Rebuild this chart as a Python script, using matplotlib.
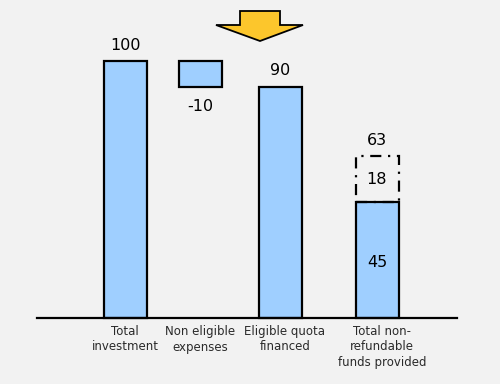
import matplotlib
matplotlib.use("Agg")
import matplotlib.pyplot as plt
from matplotlib.patches import Polygon

# data
categories = ["Total\ninvestment", "Non eligible\nexpenses",
              "Eligible quota\nfinanced", "Total non-\nrefundable\nfunds provided"]
total_investment = 100
non_eligible = -10
eligible_quota = 90
funds_solid = 45
funds_extra = 18
funds_total = 63

# layout (pixel x of each category centre, 2.57 px per unit)
xpos = [125, 200, 280, 377]
label_x = [125, 200, 285, 382]
bw = 43
ppu = 2.57
base_px = 318

blue = "#9fcfff"
bg = "#f2f2f2"

fig = plt.figure(figsize=(5, 3.84), dpi=100, facecolor=bg)
ax = fig.add_axes([0, 0, 1, 1])
ax.set_facecolor(bg)
ax.set_xlim(0, 500)
ax.set_ylim(-(384 - base_px) / ppu, base_px / ppu)
ax.axis("off")

lw = 1.6
kw = dict(color=blue, edgecolor="black", linewidth=lw, width=bw, zorder=3)

# total investment
ax.bar(xpos[0], total_investment, **kw)
# non eligible (floating)
ax.bar(xpos[1], non_eligible, bottom=total_investment, **kw)
# eligible quota
ax.bar(xpos[2], eligible_quota, **kw)
# total non refundable
ax.bar(xpos[3], funds_solid, **kw)
ax.bar(xpos[3], funds_extra, bottom=funds_solid, color="none", edgecolor="black",
       linewidth=lw, linestyle=(0, (5, 3, 1, 3)), width=bw, zorder=3)

# baseline
ax.plot([37, 457], [0, 0], color="black", linewidth=1.6, zorder=4)

fs = 11.5
off = 16 / ppu
ax.text(xpos[0], total_investment + off, str(total_investment), ha="center", va="center", fontsize=fs)
ax.text(xpos[1], total_investment + non_eligible - 20 / ppu, str(non_eligible), ha="center", va="center", fontsize=fs)
ax.text(xpos[2], eligible_quota + off, str(eligible_quota), ha="center", va="center", fontsize=fs)
ax.text(xpos[3], funds_total + off, str(funds_total), ha="center", va="center", fontsize=fs)
ax.text(xpos[3], funds_solid + funds_extra / 2, str(funds_extra), ha="center", va="center", fontsize=fs)
ax.text(xpos[3], funds_solid * 0.48, str(funds_solid), ha="center", va="center", fontsize=fs)

for x, lab in zip(label_x, categories):
    ax.text(x, -(325 - base_px) / ppu, lab, ha="center", va="top", fontsize=8.5,
            linespacing=1.25, color="#2a2a2a")

# yellow arrow at the top
def pt(px, py):
    return (px, (base_px - py) / ppu)

arrow = Polygon([pt(240, 11), pt(280, 11), pt(280, 25), pt(303, 25), pt(260, 41),
                 pt(216, 25), pt(240, 25)], closed=True, facecolor="#fcc62c",
                edgecolor="black", linewidth=1.3, zorder=5)
ax.add_patch(arrow)

fig.savefig("out.png", dpi=100, facecolor=bg)
